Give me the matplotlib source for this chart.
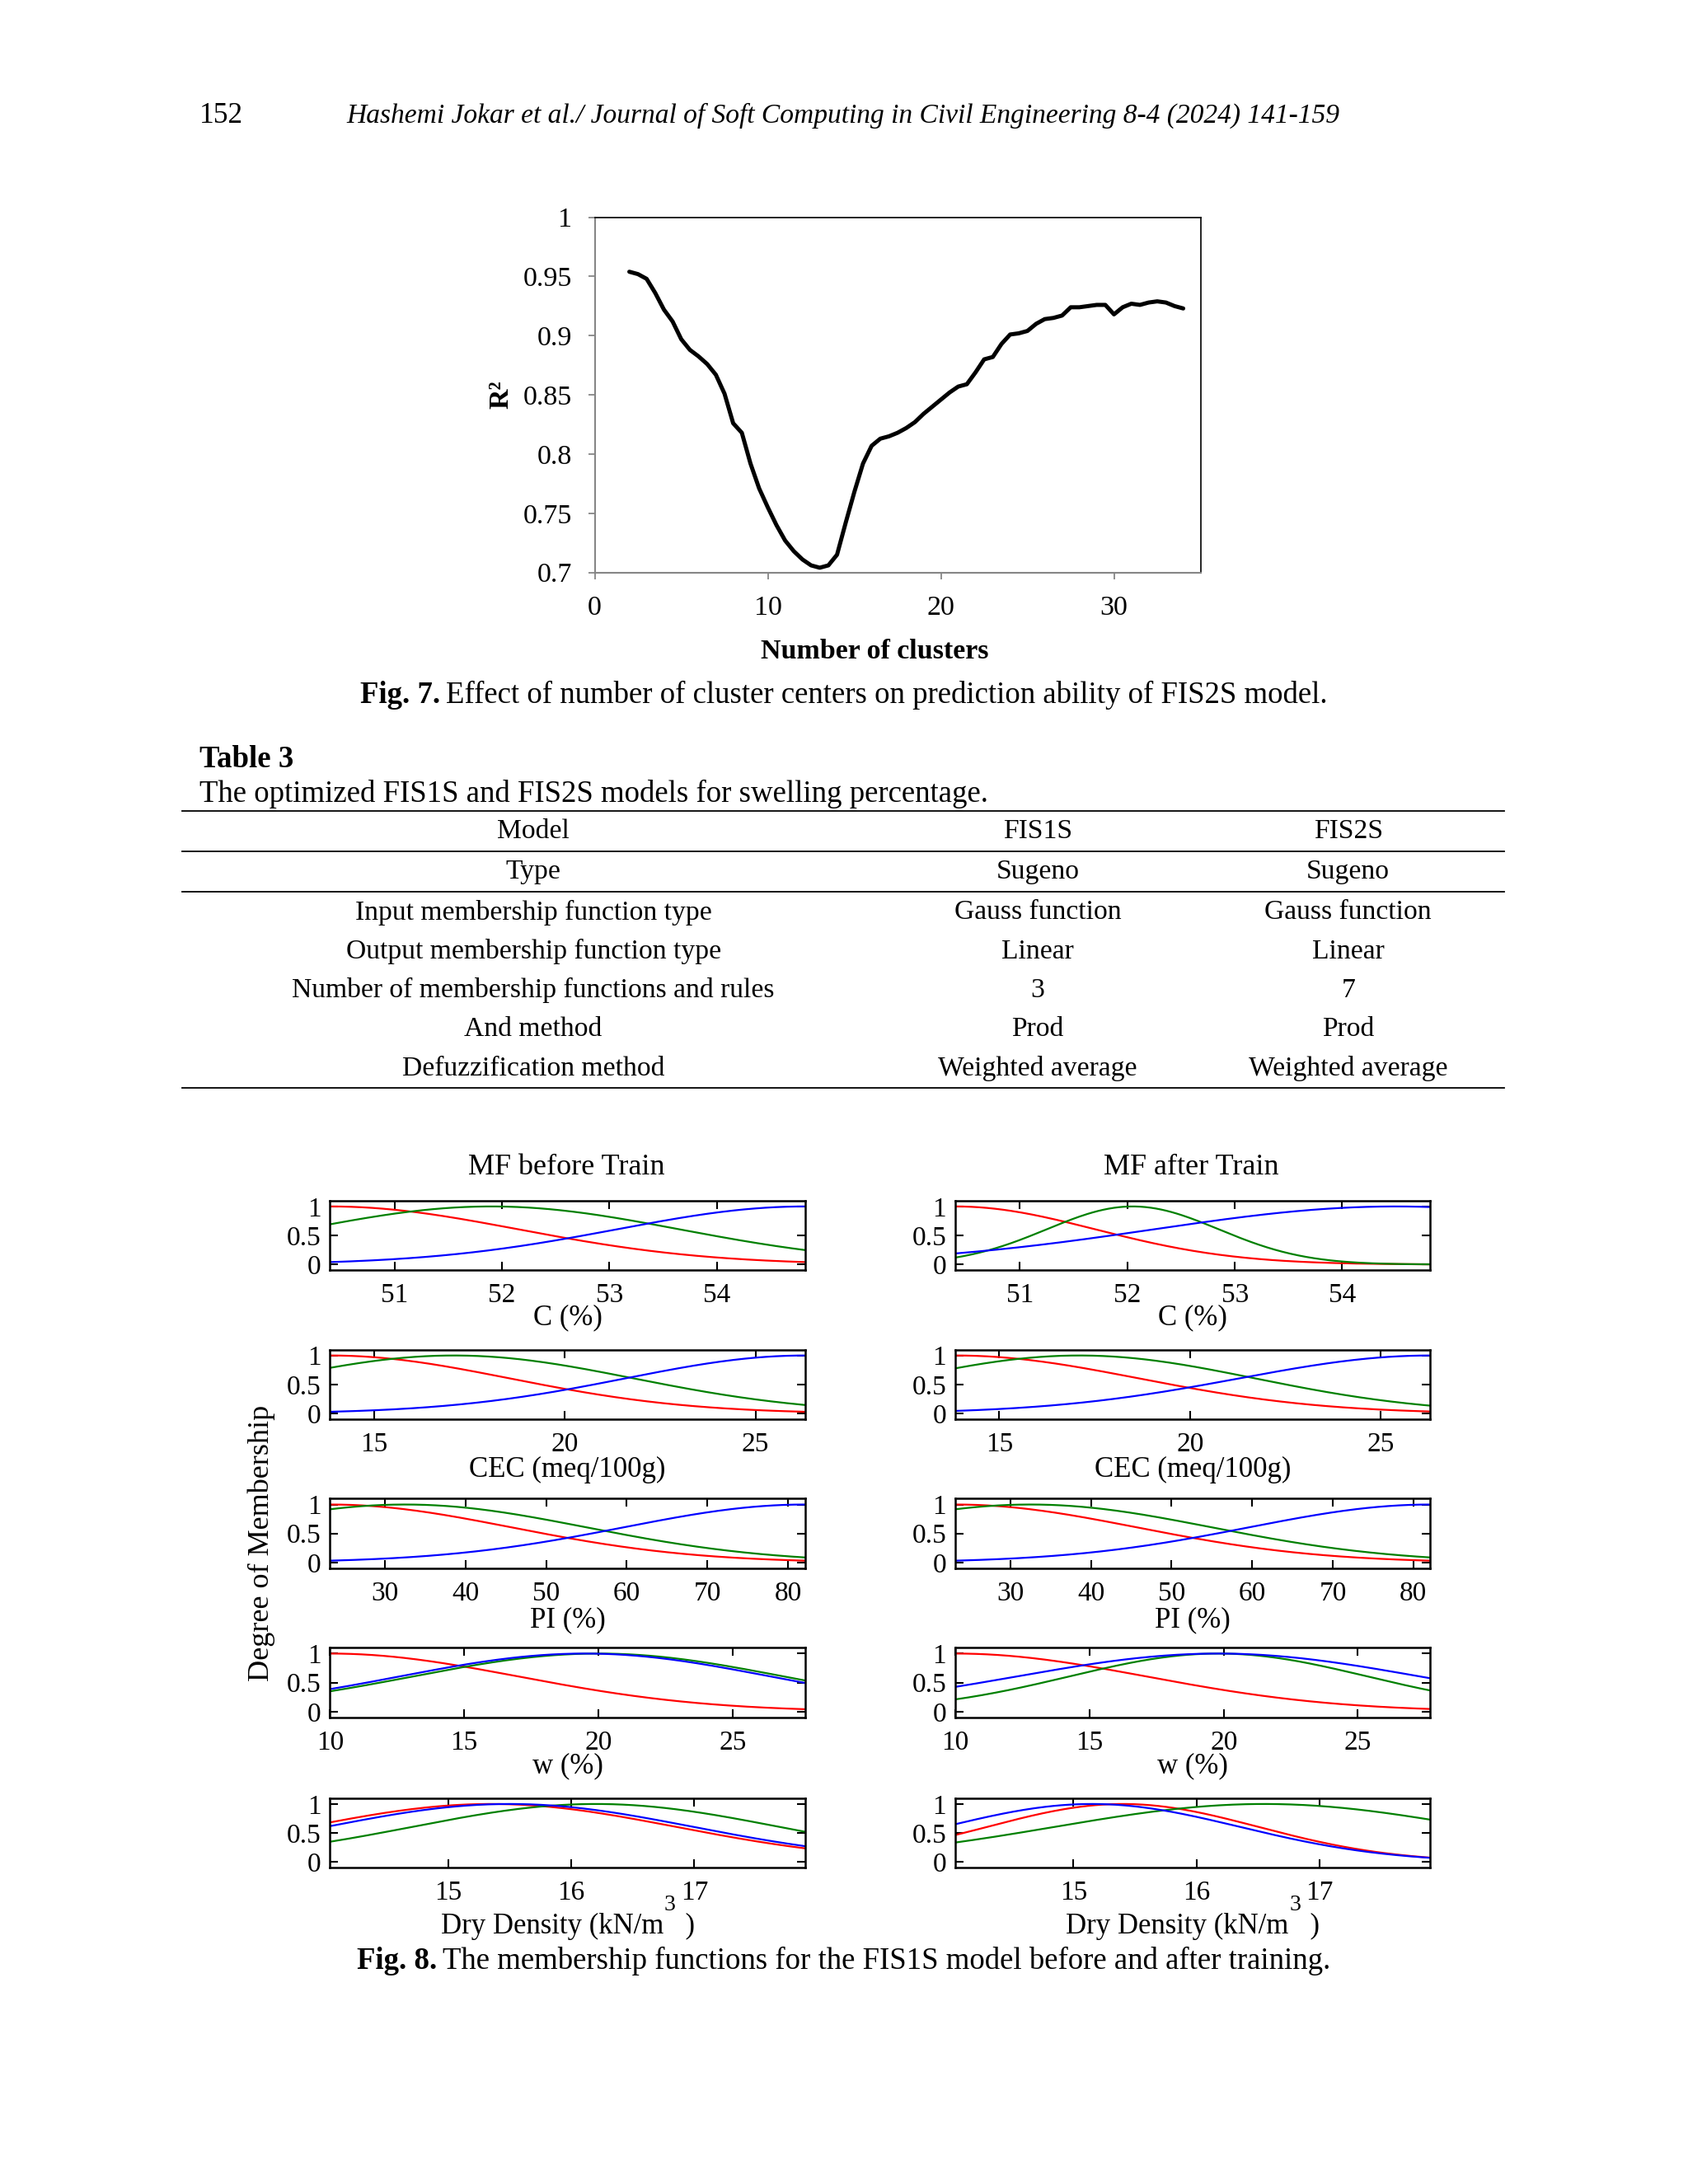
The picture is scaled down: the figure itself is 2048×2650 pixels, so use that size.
import matplotlib
matplotlib.use('Agg')
import matplotlib.pyplot as plt
import numpy as np

plt.rcParams['font.family'] = ['Liberation Serif', 'DejaVu Serif']

# ---- Fig. 7 : R2 vs number of clusters
clusters = [2, 2.5, 3, 3.5, 4, 4.5, 5, 5.5, 6, 6.5, 7, 7.5, 8, 8.5, 9, 9.5, 10, 10.5,
            11, 11.5, 12, 12.5, 13, 13.5, 14, 14.5, 15, 15.5, 16, 16.5, 17, 17.5, 18,
            18.5, 19, 19.5, 20, 20.5, 21, 21.5, 22, 22.5, 23, 23.5, 24, 24.5, 25, 25.5,
            26, 26.5, 27, 27.5, 28, 28.5, 29, 29.5, 30, 30.5, 31, 31.5, 32, 32.5, 33,
            33.5, 34]
r2 = [0.954, 0.952, 0.948, 0.936, 0.922, 0.912, 0.897, 0.888, 0.8825, 0.876, 0.867,
      0.851, 0.826, 0.818, 0.792, 0.771, 0.755, 0.740, 0.727, 0.718, 0.711, 0.706,
      0.704, 0.706, 0.715, 0.742, 0.768, 0.792, 0.807, 0.813, 0.815, 0.818, 0.822,
      0.827, 0.834, 0.840, 0.846, 0.852, 0.857, 0.859, 0.869, 0.880, 0.882, 0.893,
      0.901, 0.902, 0.904, 0.910, 0.914, 0.915, 0.917, 0.924, 0.924, 0.925, 0.926,
      0.926, 0.918, 0.924, 0.927, 0.926, 0.928, 0.929, 0.928, 0.925, 0.923]
r2_ticks = [0.7, 0.75, 0.8, 0.85, 0.9, 0.95, 1]
r2_ticklabels = ['0.7', '0.75', '0.8', '0.85', '0.9', '0.95', '1']
cluster_ticks = [0, 10, 20, 30]

# ---- Table 3
table_head = ['Model', 'FIS1S', 'FIS2S']
table_type = ['Type', 'Sugeno', 'Sugeno']
row_names = ['Input membership function type', 'Output membership function type',
             'Number of membership functions and rules', 'And method',
             'Defuzzification method']
fis1s_vals = ['Gauss function', 'Linear', '3', 'Prod', 'Weighted average']
fis2s_vals = ['Gauss function', 'Linear', '7', 'Prod', 'Weighted average']

# ---- Fig. 8 : gaussian MFs (red, green, blue) for each input
mf_inputs = ['C (%)', 'CEC (meq/100g)', 'PI (%)', 'w (%)', 'Dry Density (kN/m   )']
input_lo = [50.4, 13.85, 23.2, 10.0, 14.04]
input_hi = [54.82, 26.3, 82.1, 27.7, 17.9]
input_ticks = [[51, 52, 53, 54], [15, 20, 25], [30, 40, 50, 60, 70, 80],
               [10, 15, 20, 25], [15, 16, 17]]
before_centers = [[50.4, 51.9, 54.82], [13.85, 17.1, 26.3], [23.2, 32.5, 82.1],
                  [10.0, 20.0, 19.5], [15.35, 16.2, 15.5]]
before_sigmas = [[1.75, 1.75, 1.75], [4.7, 4.7, 4.7], [22.5, 22.5, 22.5],
                 [7.0, 6.9, 6.9], [1.5, 1.49, 1.49]]
after_centers = [[50.4, 52.05, 54.5], [13.85, 17.1, 26.3], [23.2, 32.5, 82.1],
                 [10.0, 19.8, 19.8], [15.4, 16.55, 15.15]]
after_sigmas = [[1.3, 0.8, 2.25], [4.8, 4.6, 5.0], [22.5, 22.5, 22.5],
                [7.1, 5.55, 7.5], [1.1, 1.7, 1.2]]
mf_colors = ['#ff0000', '#008000', '#0000ff']

W, H = 1212.0, 1568.0   # page layout units


def box(x0, y0, x1, y1):
    return [x0 / W, 1 - y1 / H, (x1 - x0) / W, (y1 - y0) / H]


fig = plt.figure(figsize=(20.48, 26.5), dpi=100)
page = fig.add_axes([0, 0, 1, 1])
page.set_xlim(0, W)
page.set_ylim(H, 0)
page.axis('off')

fs = 26.5      # body text
tfs = 24.2     # table text
page.text(143, 83, '152', fontsize=25.5, va='center', ha='left')
page.text(249, 83, 'Hashemi Jokar et al./ Journal of Soft Computing in Civil Engineering 8-4 (2024) 141-159',
          fontsize=24.1, style='italic', va='center', ha='left')

# ---- Fig. 7
ax = fig.add_axes(box(427, 156, 862, 411))
ax.plot(clusters, r2, color='black', lw=3.6, solid_capstyle='round')
ax.set_xlim(0, 35)
ax.set_ylim(0.7, 1)
ax.set_yticks(r2_ticks)
ax.set_yticklabels(r2_ticklabels)
ax.set_xticks(cluster_ticks)
for s in ['left', 'bottom']:
    ax.spines[s].set_color('#868686')
    ax.spines[s].set_linewidth(1.5)
for s in ['top', 'right']:
    ax.spines[s].set_color('black')
    ax.spines[s].set_linewidth(1.2)
ax.tick_params(direction='out', length=6, width=1.3, color='#868686', labelsize=24.5, pad=14)
ax.set_ylabel('R²', fontsize=24.5, fontweight='bold', labelpad=8)
page.text(628, 468, 'Number of clusters', fontsize=24.5, fontweight='bold', ha='center', va='center')
page.text(316, 499, 'Fig. 7.', fontsize=fs, fontweight='bold', va='center', ha='right')
page.text(320, 499, 'Effect of number of cluster centers on prediction ability of FIS2S model.',
          fontsize=fs, va='center', ha='left')

# ---- Table 3
page.text(143, 545, 'Table 3', fontsize=fs, fontweight='bold', va='center', ha='left')
page.text(143, 570, 'The optimized FIS1S and FIS2S models for swelling percentage.',
          fontsize=fs, va='center', ha='left')
col_x = [383, 745, 968]
for yy in [582, 611, 640, 781]:
    page.plot([131, 1080], [yy, yy], color='black', lw=1.3)
for j in range(3):
    page.text(col_x[j], 597, table_head[j], fontsize=tfs, ha='center', va='center')
    page.text(col_x[j], 626, table_type[j], fontsize=tfs, ha='center', va='center')
row_y = [655, 683, 711, 739, 767]
for i in range(len(row_names)):
    page.text(col_x[0], row_y[i], row_names[i], fontsize=tfs, ha='center', va='center')
    page.text(col_x[1], row_y[i], fis1s_vals[i], fontsize=tfs, ha='center', va='center')
    page.text(col_x[2], row_y[i], fis2s_vals[i], fontsize=tfs, ha='center', va='center')

# ---- Fig. 8
row_top = [862, 969, 1076, 1183, 1291]
row_h = 50
label_y = [946, 1055, 1163, 1268, 1383]
panels = [(237, 578, before_centers, before_sigmas, 'MF before Train'),
          (686, 1027, after_centers, after_sigmas, 'MF after Train')]
mfs = 24
for x0, x1, centers, sigmas, title in panels:
    page.text((x0 + x1) / 2 - 1, 838, title, fontsize=26, ha='center', va='center')
    for r in range(5):
        a = fig.add_axes(box(x0, row_top[r], x1, row_top[r] + row_h))
        xs = np.linspace(input_lo[r], input_hi[r], 181)
        for k in range(3):
            c = centers[r][k]
            sg = sigmas[r][k]
            a.plot(xs, np.exp(-(xs - c) ** 2 / (2 * sg ** 2)), color=mf_colors[k], lw=1.6)
        a.set_xlim(input_lo[r], input_hi[r])
        a.set_ylim(-0.1, 1.1)
        a.set_yticks([0, 0.5, 1])
        a.set_yticklabels(['0', '0.5', '1'])
        a.set_xticks(input_ticks[r])
        a.tick_params(direction='in', length=7, width=1.5, top=True, right=True,
                      labelsize=mfs, pad=8)
        a.tick_params(axis='x', pad=11)
        for s in a.spines.values():
            s.set_linewidth(1.8)
        page.text((x0 + x1) / 2, label_y[r], mf_inputs[r], fontsize=25, ha='center', va='center')
    page.text(x0 + 244, 1368, '3', fontsize=mfs - 4, ha='center', va='center')

page.text(188, 1108, 'Degree of Membership', fontsize=26, rotation=90, ha='center', va='center')
page.text(314, 1408, 'Fig. 8.', fontsize=fs, fontweight='bold', va='center', ha='right')
page.text(318, 1408, 'The membership functions for the FIS1S model before and after training.',
          fontsize=fs, va='center', ha='left')

fig.savefig('out.png', dpi=100, facecolor='white')
